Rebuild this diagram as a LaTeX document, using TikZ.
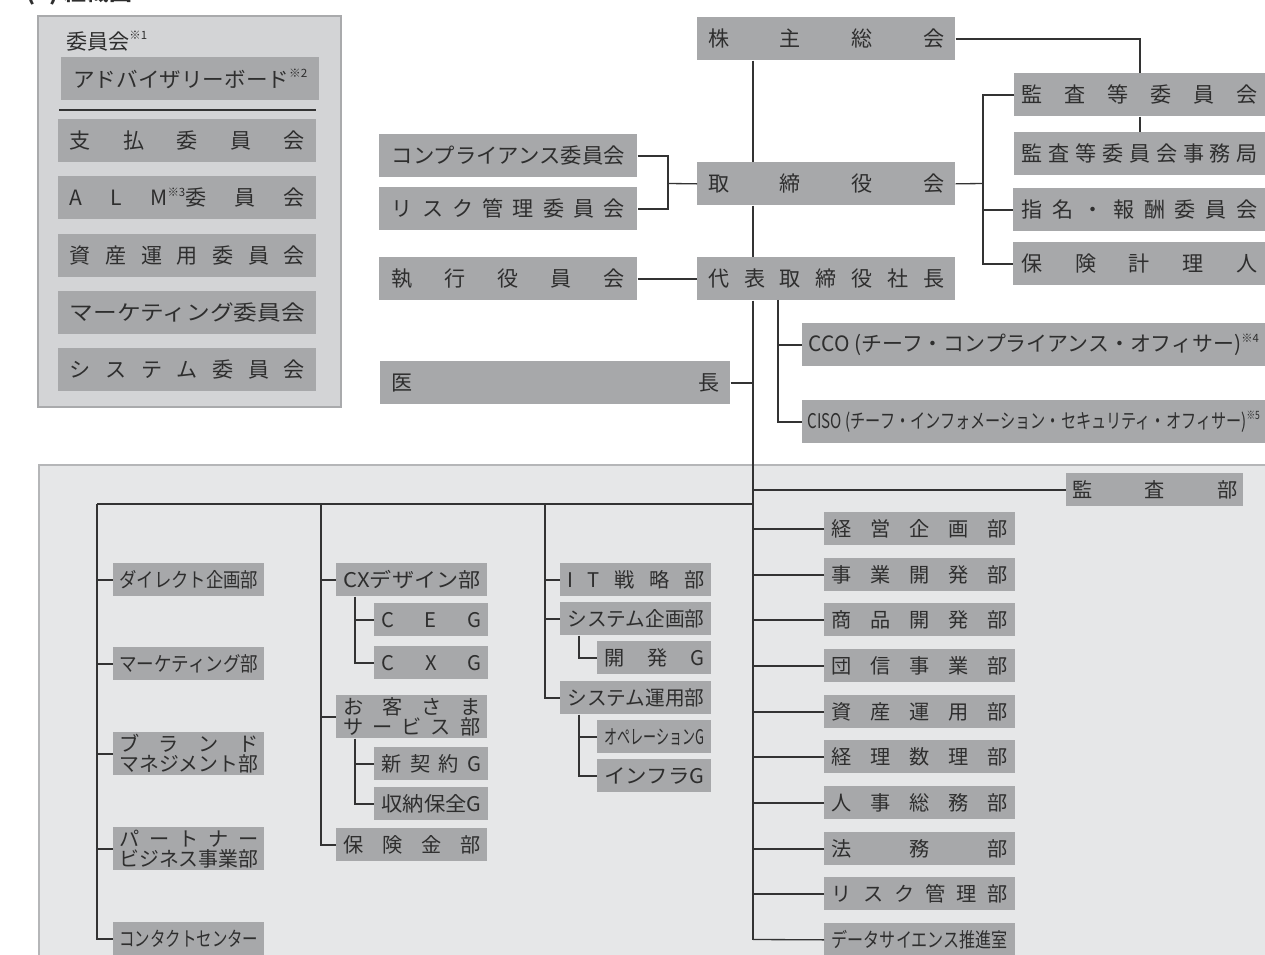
\documentclass[tikz,border=0pt]{standalone}
\usepackage{fontspec}
\setmainfont{Noto Sans CJK JP}
\usepackage{graphicx}
\usetikzlibrary{calc}
\newlength\pxl
\setlength\pxl{0.02cm}
\definecolor{boxgray}{HTML}{A7A8AA}
\definecolor{txtc}{HTML}{2E2E2E}
\definecolor{linec}{HTML}{333333}
\definecolor{panelfill}{HTML}{D3D4D6}
\definecolor{paneledge}{HTML}{A9AAAC}
\definecolor{regionfill}{HTML}{E6E7E8}
\definecolor{regionedge}{HTML}{B5B6B8}
\newcommand\spr[2]{\makebox[#1\pxl]{#2}}
\newcommand\fitw[2]{\resizebox{#1\pxl}{\height}{#2}}
\newcommand\refmark[1]{\raisebox{0.45em}{\fontsize{6.5pt}{7pt}\selectfont ※#1}}
\tikzset{
    obox/.style 2 args={
        fill=boxgray,
        text=txtc,
        inner sep=0pt,
        anchor=north west,
        minimum width=#1\pxl,
        minimum height=#2\pxl
    },
    tbox/.style={
        font=\fontsize{12pt}{14pt}\selectfont
    },
    lbox/.style={
        font=\fontsize{11.5pt}{11.5pt}\selectfont,
        align=center
    },
    conn/.style={
        draw=linec,
        line width=0.75pt
    },
    panel/.style={
        fill=panelfill,
        draw=paneledge,
        line width=1.1pt
    },
    region/.style={
        fill=regionfill,
        draw=regionedge,
        line width=1.1pt
    }
}

\begin{document}
\begin{tikzpicture}[x=0.02cm,y=-0.02cm]
\useasboundingbox (0,0) rectangle (1265,955);
\begin{scope}
\clip (0,0) rectangle (1265,955);
\node[anchor=base west, text=txtc, font=\fontsize{13pt}{15pt}\selectfont\bfseries] (title) at (20,1) {(1) 組織図};
\end{scope}

% committees
\path[panel] (38,16) rectangle (341,407);
\node[anchor=west, text=txtc, font=\fontsize{12pt}{14pt}\selectfont] (iinlbl) at (60,41) {委員会\refmark{1}};
\node[obox={258}{43}, tbox] (adv) at (61,57) {\fitw{234}{アドバイザリーボード\refmark{2}}};
\draw[conn] (59,110) -- (316,110);
\node[obox={258}{43}, tbox] (shiharai) at (58,119) {\spr{235}{支\hfill 払\hfill 委\hfill 員\hfill 会}};
\node[obox={258}{43}, tbox] (alm) at (58,176) {\spr{235}{A\hfill L\hfill M\refmark{3}委\hfill 員\hfill 会}};
\node[obox={258}{43}, tbox] (shisaniin) at (58,234) {\spr{235}{資\hfill 産\hfill 運\hfill 用\hfill 委\hfill 員\hfill 会}};
\node[obox={258}{43}, tbox] (mktiin) at (58,291) {\fitw{235}{マーケティング委員会}};
\node[obox={258}{43}, tbox] (sysiin) at (58,348) {\spr{235}{シ\hfill ス\hfill テ\hfill ム\hfill 委\hfill 員\hfill 会}};

% top management
\node[obox={258}{43}, tbox] (kabu) at (697,17) {\spr{236}{株\hfill 主\hfill 総\hfill 会}};
\node[obox={258}{43}, tbox] (tori) at (697,162) {\spr{236}{取\hfill 締\hfill 役\hfill 会}};
\node[obox={258}{43}, tbox] (daihyo) at (697,257) {\spr{236}{代\hfill 表\hfill 取\hfill 締\hfill 役\hfill 社\hfill 長}};
\node[obox={258}{43}, tbox] (comp) at (379,134) {\fitw{233}{コンプライアンス委員会}};
\node[obox={258}{43}, tbox] (risk) at (379,187) {\spr{233}{リ\hfill ス\hfill ク\hfill 管\hfill 理\hfill 委\hfill 員\hfill 会}};
\node[obox={258}{43}, tbox] (shikko) at (379,257) {\spr{233}{執\hfill 行\hfill 役\hfill 員\hfill 会}};
\node[obox={350}{43}, tbox] (icho) at (380,361) {\spr{328}{医\hfill 長}};
\node[obox={251}{43}, tbox] (kansaiin) at (1014,73) {\spr{236}{監\hfill 査\hfill 等\hfill 委\hfill 員\hfill 会}};
\node[obox={251}{43}, tbox] (jimu) at (1014,132) {\spr{236}{監\hfill 査\hfill 等\hfill 委\hfill 員\hfill 会\hfill 事\hfill 務\hfill 局}};
\node[obox={252}{43}, tbox] (shimei) at (1013,188) {\spr{236}{指\hfill 名\hfill ・\hfill 報\hfill 酬\hfill 委\hfill 員\hfill 会}};
\node[obox={252}{43}, tbox] (keirinin) at (1013,242) {\spr{236}{保\hfill 険\hfill 計\hfill 理\hfill 人}};
\node[obox={463}{43}, tbox] (cco) at (802,323) {\fitw{450}{CCO (チーフ・コンプライアンス・オフィサー)\refmark{4}}};
\node[obox={463}{43}, font=\fontsize{11.5pt}{13pt}\selectfont] (ciso) at (802,400) {\fitw{452}{CISO (チーフ・インフォメーション・セキュリティ・オフィサー)\refmark{5}}};

% departments
\path[region] (39,465) rectangle (1275,965);
\node[obox={177}{33}, lbox] (kansabu) at (1066,473) {\spr{165}{監\hfill 査\hfill 部}};
\node[obox={191}{33}, lbox] (keiei) at (824,512) {\spr{176}{経\hfill 営\hfill 企\hfill 画\hfill 部}};
\node[obox={191}{33}, lbox] (jigyo) at (824,558) {\spr{176}{事\hfill 業\hfill 開\hfill 発\hfill 部}};
\node[obox={191}{33}, lbox] (shohin) at (824,603) {\spr{176}{商\hfill 品\hfill 開\hfill 発\hfill 部}};
\node[obox={191}{33}, lbox] (danshin) at (824,649) {\spr{176}{団\hfill 信\hfill 事\hfill 業\hfill 部}};
\node[obox={191}{33}, lbox] (shisanbu) at (824,695) {\spr{176}{資\hfill 産\hfill 運\hfill 用\hfill 部}};
\node[obox={191}{33}, lbox] (keiri) at (824,740) {\spr{176}{経\hfill 理\hfill 数\hfill 理\hfill 部}};
\node[obox={191}{33}, lbox] (jinji) at (824,786) {\spr{176}{人\hfill 事\hfill 総\hfill 務\hfill 部}};
\node[obox={191}{33}, lbox] (homu) at (824,832) {\spr{176}{法\hfill 務\hfill 部}};
\node[obox={191}{33}, lbox] (riskbu) at (824,877) {\spr{176}{リ\hfill ス\hfill ク\hfill 管\hfill 理\hfill 部}};
\node[obox={191}{33}, lbox] (data) at (824,923) {\fitw{176}{データサイエンス推進室}};

\node[obox={151}{33}, lbox] (direct) at (113,563) {\fitw{139}{ダイレクト企画部}};
\node[obox={151}{33}, lbox] (mktbu) at (113,647) {\fitw{139}{マーケティング部}};
\node[obox={151}{43}, lbox] (brand) at (113,732) {\spr{139}{ブ\hfill ラ\hfill ン\hfill ド}\\\fitw{139}{マネジメント部}};
\node[obox={151}{43}, lbox] (partner) at (113,827) {\spr{139}{パ\hfill ー\hfill ト\hfill ナ\hfill ー}\\\fitw{139}{ビジネス事業部}};
\node[obox={151}{33}, lbox] (contact) at (113,922) {\fitw{139}{コンタクトセンター}};

\node[obox={151}{33}, lbox] (cxd) at (336,563) {\fitw{137}{CXデザイン部}};
\node[obox={114}{33}, lbox] (ceg) at (374,603) {\spr{100}{C\hfill E\hfill G}};
\node[obox={114}{33}, lbox] (cxg) at (374,646) {\spr{100}{C\hfill X\hfill G}};
\node[obox={151}{43}, lbox] (okyaku) at (336,695) {\spr{137}{お\hfill 客\hfill さ\hfill ま}\\\spr{137}{サ\hfill ー\hfill ビ\hfill ス\hfill 部}};
\node[obox={114}{33}, lbox] (shinkei) at (374,747) {\spr{100}{新\hfill 契\hfill 約\hfill G}};
\node[obox={114}{33}, lbox] (shuno) at (374,787) {\fitw{100}{収納保全G}};
\node[obox={151}{33}, lbox] (hokenkin) at (336,828) {\spr{137}{保\hfill 険\hfill 金\hfill 部}};

\node[obox={151}{33}, lbox] (itst) at (560,563) {\spr{137}{I\hfill T\hfill 戦\hfill 略\hfill 部}};
\node[obox={151}{33}, lbox] (syskik) at (560,602) {\fitw{137}{システム企画部}};
\node[obox={114}{33}, lbox] (kaihatsu) at (597,641) {\spr{100}{開\hfill 発\hfill G}};
\node[obox={151}{33}, lbox] (sysun) at (560,681) {\fitw{137}{システム運用部}};
\node[obox={114}{33}, lbox] (ope) at (597,720) {\fitw{100}{オペレーションG}};
\node[obox={114}{33}, lbox] (infra) at (597,759) {\fitw{100}{インフラG}};

% junction points
\coordinate (trunk) at (753,939.5);
\coordinate (cb) at (668,183.5);
\coordinate (rb) at (983,183.5);
\coordinate (cb2) at (778,300);
\coordinate (busl) at (97,504);
\coordinate (bus2) at (321,504);
\coordinate (bus3) at (545,504);
\coordinate (s1) at ($(cxd.south west)+(19,0)$);
\coordinate (s2) at ($(okyaku.south west)+(19,0)$);
\coordinate (s3) at ($(syskik.south west)+(19,0)$);
\coordinate (s4) at ($(sysun.south west)+(19,0)$);

% connectors
\draw[conn] (kabu.south -| trunk) -- (tori.north -| trunk);
\draw[conn] (tori.south -| trunk) -- (daihyo.north -| trunk);
\draw[conn] (daihyo.south -| trunk) -- (trunk);
\draw[conn] (kabu.east) -| (kansaiin.north);
\draw[conn] (kansaiin.south) -- (jimu.north);
\draw[conn] (comp.east) -| (cb) |- (risk.east);
\draw[conn] (cb) -- (tori.west);
\draw[conn] (shikko.east) -- (daihyo.west);
\draw[conn] (icho.east) -- (icho.east -| trunk);
\draw[conn] (tori.east) -- (rb);
\draw[conn] (kansaiin.west) -| (rb |- keirinin.west) -- (keirinin.west);
\draw[conn] (shimei.west) -- (shimei.west -| rb);
\draw[conn] (cb2) |- (ciso.west);
\draw[conn] (cco.west -| cb2) -- (cco.west);

\draw[conn] (kansabu.west) -- (kansabu.west -| trunk);
\draw[conn] (keiei.west) -- (keiei.west -| trunk);
\draw[conn] (jigyo.west) -- (jigyo.west -| trunk);
\draw[conn] (shohin.west) -- (shohin.west -| trunk);
\draw[conn] (danshin.west) -- (danshin.west -| trunk);
\draw[conn] (shisanbu.west) -- (shisanbu.west -| trunk);
\draw[conn] (keiri.west) -- (keiri.west -| trunk);
\draw[conn] (jinji.west) -- (jinji.west -| trunk);
\draw[conn] (homu.west) -- (homu.west -| trunk);
\draw[conn] (riskbu.west) -- (riskbu.west -| trunk);
\draw[conn] (data.west) -- (trunk);

\draw[conn] (busl) -- (busl -| trunk);
\draw[conn] (busl) |- (contact.west);
\draw[conn] (direct.west) -- (direct.west -| busl);
\draw[conn] (mktbu.west) -- (mktbu.west -| busl);
\draw[conn] (brand.west) -- (brand.west -| busl);
\draw[conn] (partner.west) -- (partner.west -| busl);

\draw[conn] (bus2) |- (hokenkin.west);
\draw[conn] (cxd.west) -- (cxd.west -| bus2);
\draw[conn] (okyaku.west) -- (okyaku.west -| bus2);
\draw[conn] (s1) |- (cxg.west);
\draw[conn] (ceg.west) -- (ceg.west -| s1);
\draw[conn] (s2) |- (shuno.west);
\draw[conn] (shinkei.west) -- (shinkei.west -| s2);

\draw[conn] (bus3) |- (sysun.west);
\draw[conn] (itst.west) -- (itst.west -| bus3);
\draw[conn] (syskik.west) -- (syskik.west -| bus3);
\draw[conn] (s3) |- (kaihatsu.west);
\draw[conn] (s4) |- (infra.west);
\draw[conn] (ope.west) -- (ope.west -| s4);
\end{tikzpicture}
\end{document}
